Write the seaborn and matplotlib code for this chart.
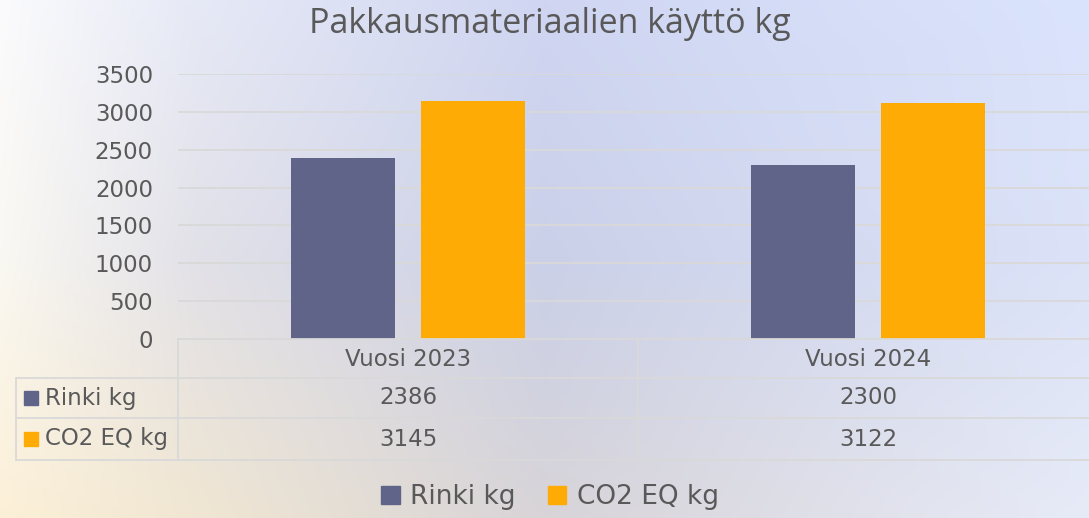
import numpy as np
import pandas as pd
import matplotlib
matplotlib.use("Agg")
import matplotlib.pyplot as plt
import matplotlib.colors as mcolors
import matplotlib.transforms as mtransforms
from matplotlib.lines import Line2D
from matplotlib.patches import Rectangle, Patch
import seaborn as sns

# DATA
years = ["Vuosi 2023", "Vuosi 2024"]
series = ["Rinki kg", "CO2 EQ kg"]
rinki_kg = [2386, 2300]
co2_eq_kg = [3145, 3122]
y_ticks = [0, 500, 1000, 1500, 2000, 2500, 3000, 3500]
title = "Pakkausmateriaalien käyttö kg"

# STYLE
colors = ["#5f6488", "#ffab05"]
TEXT = "#595959"
LINE = "#d9d9d9"
FS = 16.5

sns.set_theme(style="white")
plt.rcParams["font.family"] = ["DejaVu Sans"]

df = pd.DataFrame({
    "year": years * 2,
    "series": [series[0]] * len(years) + [series[1]] * len(years),
    "kg": rinki_kg + co2_eq_kg,
})

W, H = 1089, 518
fig = plt.figure(figsize=(W / 100, H / 100), dpi=100)


def fx(px):
    return px / W


def fy(py):
    return 1 - py / H


# background gradient (cream bottom-left -> lavender/blue top-right)
grid_x = [0, 0.18, 0.5, 1.0]
grid_y = [0, 0.5, 1.0]
grid_c = [
    ["#fbfbfd", "#e6e9f6", "#d0d6f2", "#dbe4fd"],
    ["#faf8f2", "#e2e1e8", "#cad0e8", "#dce3f8"],
    ["#fcf0d7", "#f0e6d2", "#d8d4d8", "#e7ebf8"],
]
rgb = np.array([[mcolors.to_rgb(c) for c in row] for row in grid_c])
gx = np.linspace(0, 1, W)
gy = np.linspace(0, 1, H)
rows = np.array([[np.interp(gx, grid_x, rgb[r, :, k]) for k in range(3)] for r in range(3)])
img = np.empty((H, W, 3))
for k in range(3):
    img[:, :, k] = np.array([np.interp(gy, grid_y, rows[:, k, i]) for i in range(W)]).T
bg = fig.add_axes([0, 0, 1, 1], zorder=-10)
bg.imshow(img, aspect="auto", extent=[0, 1, 0, 1])
bg.axis("off")

# main bars
ax = fig.add_axes([fx(178), fy(339), 920 / W, (339 - 74) / H])
ax.patch.set_alpha(0)
sns.barplot(data=df, x="year", y="kg", hue="series", palette=colors,
            width=0.565, gap=0.2, saturation=1, legend=False, ax=ax,
            linewidth=0, edgecolor="none")
ax.set_xlim(-0.5, len(years) - 0.5)
ax.set_ylim(0, 3500)
ax.set_yticks(y_ticks)
ax.set_yticklabels([str(t) for t in y_ticks], fontsize=FS, color=TEXT)
ax.tick_params(axis="y", length=0, pad=18)
ax.set_xticks([])
ax.set_xlabel("")
ax.set_ylabel("")
ax.yaxis.grid(True, color=LINE, linewidth=1.3)
ax.set_axisbelow(True)
for s in ["top", "right", "left"]:
    ax.spines[s].set_visible(False)
ax.spines["bottom"].set_color(LINE)
ax.spines["bottom"].set_linewidth(1.3)

# data table below the axis
blend = mtransforms.blended_transform_factory(ax.transData, fig.transFigure)
for yy in [378, 418, 460]:
    fig.add_artist(Line2D([fx(16), 1], [fy(yy), fy(yy)], color=LINE, lw=1.3))
fig.add_artist(Line2D([fx(16), fx(16)], [fy(378), fy(460)], color=LINE, lw=1.3))
fig.add_artist(Line2D([fx(178), fx(178)], [fy(339), fy(460)], color=LINE, lw=1.3))
for i in range(len(years) - 1):
    fig.add_artist(Line2D([i + 0.5, i + 0.5], [fy(339), fy(460)], color=LINE, lw=1.3,
                          transform=blend))

for i, yr in enumerate(years):
    fig.text(i, fy(359), yr, transform=blend, ha="center", va="center",
             fontsize=FS, color=TEXT)
    fig.text(i, fy(398), str(rinki_kg[i]), transform=blend, ha="center", va="center",
             fontsize=FS, color=TEXT)
    fig.text(i, fy(439), str(co2_eq_kg[i]), transform=blend, ha="center", va="center",
             fontsize=FS, color=TEXT)

for name, col, yc in zip(series, colors, [398, 439]):
    fig.add_artist(Rectangle((fx(24), fy(yc + 7)), 14 / W, 14 / H, color=col,
                             transform=fig.transFigure))
    fig.text(fx(45), fy(yc), name, ha="left", va="center", fontsize=FS, color=TEXT)

# title
fig.text(fx(550), fy(33), title, ha="center", va="baseline", fontsize=24.5,
         family=["Open Sans", "DejaVu Sans"], color=TEXT)

# legend
handles = [Patch(color=c, label=s) for s, c in zip(series, colors)]
fig.legend(handles=handles, loc="center", bbox_to_anchor=(fx(550), fy(497)), ncol=2,
           frameon=False, fontsize=19, handlelength=0.7, handleheight=0.7,
           handletextpad=0.4, columnspacing=1.2, labelcolor=TEXT)

fig.savefig("out.png", dpi=100)
